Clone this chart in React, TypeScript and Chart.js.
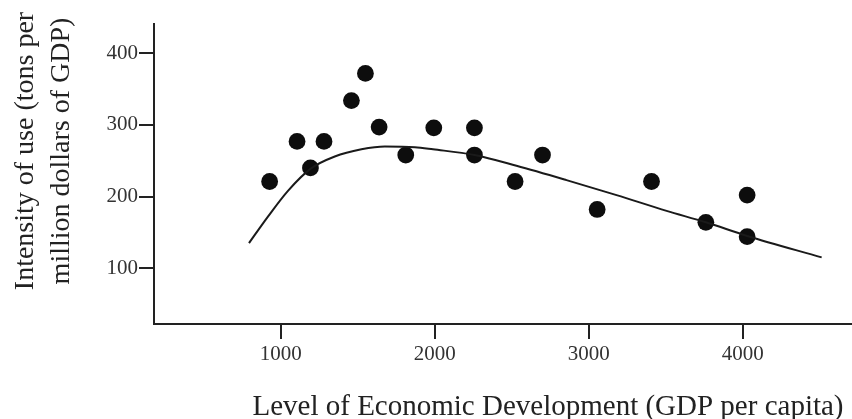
import { useEffect, useRef } from "react";
import { Chart, registerables } from "chart.js";

Chart.register(...registerables);

// Observed countries: GDP per capita vs. intensity of use
const gdpPerCapita = [928, 1106, 1193, 1281, 1459, 1550, 1639, 1812, 1994, 2258, 2258, 2522, 2700, 3055, 3408, 3761, 4029, 4029];
const intensityOfUse = [221, 277, 240, 277, 334, 372, 297, 258, 296, 296, 258, 221, 258, 182, 221, 164, 202, 144];

// Fitted curve
const trendGdp = [794, 917, 1047, 1195, 1351, 1524, 1676, 1871, 1989, 2258, 2531, 2856, 3181, 3506, 3761, 4029, 4513];
const trendIntensity = [135, 172, 208, 239, 256, 266, 270, 269, 266, 258, 243, 223, 202, 180, 164, 145, 115];

const xTicks = [1000, 2000, 3000, 4000];
const yTicks = [100, 200, 300, 400];

const xTitle = "Level of Economic Development (GDP per capita)";
const yTitle = ["Intensity of use (tons per", "million dollars of GDP)"];

const SERIF = '"Liberation Serif", "Times New Roman", serif';
const INK = "#1a1a1a";

const axisTitles = {
  id: "axisTitles",
  afterDraw(chart: any) {
    const { ctx, chartArea } = chart;
    ctx.save();
    ctx.fillStyle = "#222";
    ctx.textAlign = "center";
    ctx.textBaseline = "alphabetic";
    // x title
    ctx.font = `29px ${SERIF}`;
    ctx.fillText(xTitle, chartArea.left + 394, chartArea.bottom + 91);
    // y title (rotated, two lines)
    ctx.font = `28px ${SERIF}`;
    const baselines = [33, 69];
    yTitle.forEach((line, i) => {
      ctx.save();
      ctx.translate(baselines[i], chartArea.top + 127);
      ctx.rotate(-Math.PI / 2);
      ctx.fillText(line, 0, 0);
      ctx.restore();
    });
    ctx.restore();
  },
};

export default function App() {
  const ref = useRef<HTMLCanvasElement | null>(null);

  useEffect(() => {
    document.body.style.margin = "0";
    const canvas = ref.current;
    if (!canvas) return;
    const tickFont = { family: SERIF, size: 21 };
    const chart = new Chart(canvas, {
      type: "scatter",
      data: {
        datasets: [
          {
            label: "Trend",
            data: trendGdp.map((x, i) => ({ x, y: trendIntensity[i] })),
            showLine: true,
            borderColor: INK,
            borderWidth: 2,
            pointRadius: 0,
            fill: false,
            cubicInterpolationMode: "monotone",
          } as any,
          {
            label: "Countries",
            data: gdpPerCapita.map((x, i) => ({ x, y: intensityOfUse[i] })),
            showLine: false,
            pointRadius: 8.4,
            pointBackgroundColor: "#0d0d0d",
            pointBorderWidth: 0,
          } as any,
        ],
      },
      options: {
        animation: false,
        responsive: false,
        layout: { autoPadding: false, padding: { top: 24, left: 0, right: 0, bottom: 0 } },
        plugins: {
          legend: { display: false },
          tooltip: { enabled: false },
        },
        scales: {
          x: {
            type: "linear",
            position: "bottom",
            min: 177,
            max: 4710,
            afterBuildTicks: (s: any) => {
              s.ticks = xTicks.map((v) => ({ value: v }));
            },
            afterFit: (s: any) => {
              s.height = 95;
            },
            grid: {
              display: true,
              drawOnChartArea: false,
              drawTicks: true,
              tickLength: 15,
              color: "#222",
              lineWidth: 2,
            },
            border: { display: true, color: "#222", width: 2 },
            ticks: {
              font: tickFont,
              color: "#333",
              padding: 3,
              maxRotation: 0,
              autoSkip: false,
              callback: (v: any) => String(v),
            },
          },
          y: {
            type: "linear",
            min: 22,
            max: 441,
            afterBuildTicks: (s: any) => {
              s.ticks = yTicks.map((v) => ({ value: v }));
            },
            afterFit: (s: any) => {
              s.width = 154;
            },
            grid: {
              display: true,
              drawOnChartArea: false,
              drawTicks: true,
              tickLength: 15,
              color: "#222",
              lineWidth: 2,
            },
            border: { display: true, color: "#222", width: 2 },
            ticks: {
              font: tickFont,
              color: "#333",
              padding: 1,
              autoSkip: false,
              callback: (v: any) => String(v),
            },
          },
        },
      },
      plugins: [axisTitles],
    });
    return () => chart.destroy();
  }, []);

  return (
    <canvas
      ref={ref}
      width={852}
      height={419}
      style={{ display: "block", width: 852, height: 419 }}
    />
  );
}
